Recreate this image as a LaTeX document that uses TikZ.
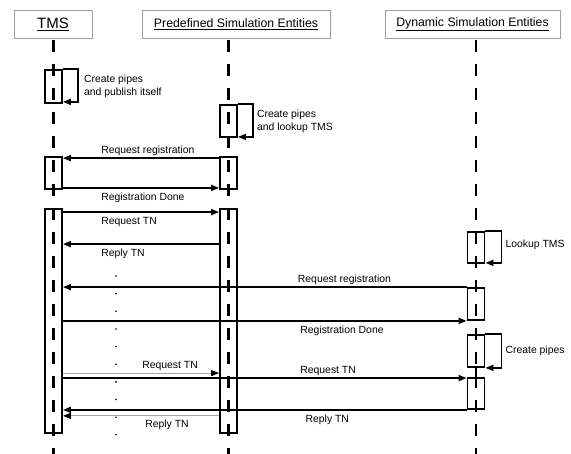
\documentclass[tikz,border=0pt]{standalone}
\usepackage{fontspec}
\setmainfont{Liberation Sans}
\usetikzlibrary{arrows.meta,positioning}

\begin{document}
\begin{tikzpicture}[x=1pt, y=-1pt,
        head/.style={rectangle, draw=gray!75, fill=white, line width=0.8pt, minimum height=28pt, inner sep=0pt},
        life/.style={line width=2.6pt, dash pattern=on 12pt off 12pt},
        act/.style={rectangle, draw, line width=1.8pt, minimum width=17pt, inner sep=0pt},
        msg/.style={-{Triangle[length=8pt, width=6pt]}, line width=1.8pt},
        faint/.style={-{Triangle[length=8pt, width=6pt, color=black]}, line width=0.8pt, gray!70},
        lbl/.style={font=\fontsize{10.4}{13}\selectfont, inner xsep=0pt, inner ysep=4pt, text height=7.5pt, text depth=0pt},
        note/.style={font=\fontsize{10.4}{13}\selectfont, inner sep=0pt, align=left}
    ]
    \useasboundingbox (0,0) rectangle (571,454);

    % Lifelines
    \coordinate (tmsTop) at (53.5,40);
    \coordinate (tmsBot) at (53.5,454);
    \coordinate (preTop) at (228.5,40);
    \coordinate (preBot) at (228.5,454);
    \coordinate (dynTop) at (476,40);
    \coordinate (dynBot) at (476,454);
    \draw[life] (tmsTop) -- (tmsBot);
    \draw[life] (preTop) -- (preBot);
    \draw[life] (dynTop) -- (dynBot);

    % Headers
    \node[head, minimum width=78pt, font=\fontsize{15}{18}\selectfont] (tms) at (53,24) {\underline{TMS}};
    \node[head, minimum width=188pt, font=\fontsize{12.3}{15}\selectfont] (pre) at (236,24) {\underline{Predefined Simulation Entities}};
    \node[head, minimum width=175pt, font=\fontsize{12.3}{15}\selectfont] (dyn) at (472.5,24) {\underline{Dynamic Simulation Entities}};

    % Activation boxes
    \node[act, minimum height=33pt] (tmsA) at (53.5,86.5) {};
    \node[act, minimum height=32pt] (tmsB) at (53.5,173) {};
    \node[act, minimum height=224pt] (tmsC) at (53.5,321) {};
    \node[act, minimum height=32pt] (preA) at (228.5,121) {};
    \node[act, minimum height=32pt] (preB) at (228.5,173) {};
    \node[act, minimum height=224pt] (preC) at (228.5,321) {};
    \node[act, minimum height=31pt] (dynA) at (476,247.5) {};
    \node[act, minimum height=32pt] (dynB) at (476,304) {};
    \node[act, minimum height=32pt] (dynC) at (476,351) {};
    \node[act, minimum height=31pt] (dynD) at (476,393.5) {};
    \draw[line width=1.2pt] (dynC.south) -- (dynD.north);

    % Self calls
    \draw[msg] (tmsA.north east) -- ++(15,0) |- ([yshift=2pt]tmsA.south east);
    \node[note, right=21pt of tmsA] (tmsNote) {Create pipes\\and publish itself};
    \draw[msg] (preA.north east) -- ++(15,0) |- ([yshift=1pt]preA.south east);
    \node[note, right=19pt of preA] (preNote) {Create pipes\\and lookup TMS};
    \draw[msg] (dynA.north east) -- ++(16,0) |- ([yshift=1pt]dynA.south east);
    \node[note, right=20pt of dynA, yshift=3pt] (dynNoteA) {Lookup TMS};
    \draw[msg] (dynC.north east) -- ++(16,0) |- ([yshift=0pt]dynC.south east);
    \node[note, right=20pt of dynC] (dynNoteC) {Create pipes};

    % TMS <-> predefined entities
    \draw[msg] ([yshift=-2pt]preB.north west) -- node[lbl, anchor=south west, pos=0.76] {Request registration} ([yshift=-2pt]tmsB.north east);
    \draw[msg] ([yshift=2pt]tmsB.south east) -- node[lbl, anchor=north west, pos=0.24] {Registration Done} ([yshift=2pt]preB.south west);
    \draw[msg] ([yshift=-4pt]tmsC.north east) -- node[lbl, anchor=north west, pos=0.24] {Request TN} ([yshift=-4pt]preC.north west);
    \draw[msg] ([yshift=-36pt]preC.north west) -- node[lbl, anchor=north west, pos=0.76] {Reply TN} ([yshift=-36pt]tmsC.north east);

    % dots
    \foreach \i in {0,...,9}
        \fill (116,276+17.65*\i) circle (0.9pt);

    % TMS <-> dynamic entities
    \draw[msg] (dynB.north west) -- node[lbl, anchor=south west, pos=0.42] {Request registration} (tmsC.east |- dynB.north);
    \draw[msg] (tmsC.east |- dynB.south) -- node[lbl, anchor=north west, pos=0.586] {Registration Done} (dynB.south west);
    \draw[faint] ([yshift=4pt]tmsC.east |- dynD.north) -- node[lbl, anchor=south west, pos=0.506, black] {Request TN} ([yshift=4pt]preC.west |- dynD.north);
    \draw[msg] ([yshift=-1pt]tmsC.east |- dynD.north) -- node[lbl, anchor=south west, pos=0.586] {Request TN} ([yshift=-1pt]dynD.north west);
    \draw[msg] (dynD.south west) -- node[lbl, anchor=north west, pos=0.401] {Reply TN} (tmsC.east |- dynD.south);
    \draw[faint] ([yshift=-6pt]preC.west |- dynD.south) -- node[lbl, anchor=north west, pos=0.475, black] {Reply TN} ([yshift=-6pt]tmsC.east |- dynD.south);

\end{tikzpicture}
\end{document}
